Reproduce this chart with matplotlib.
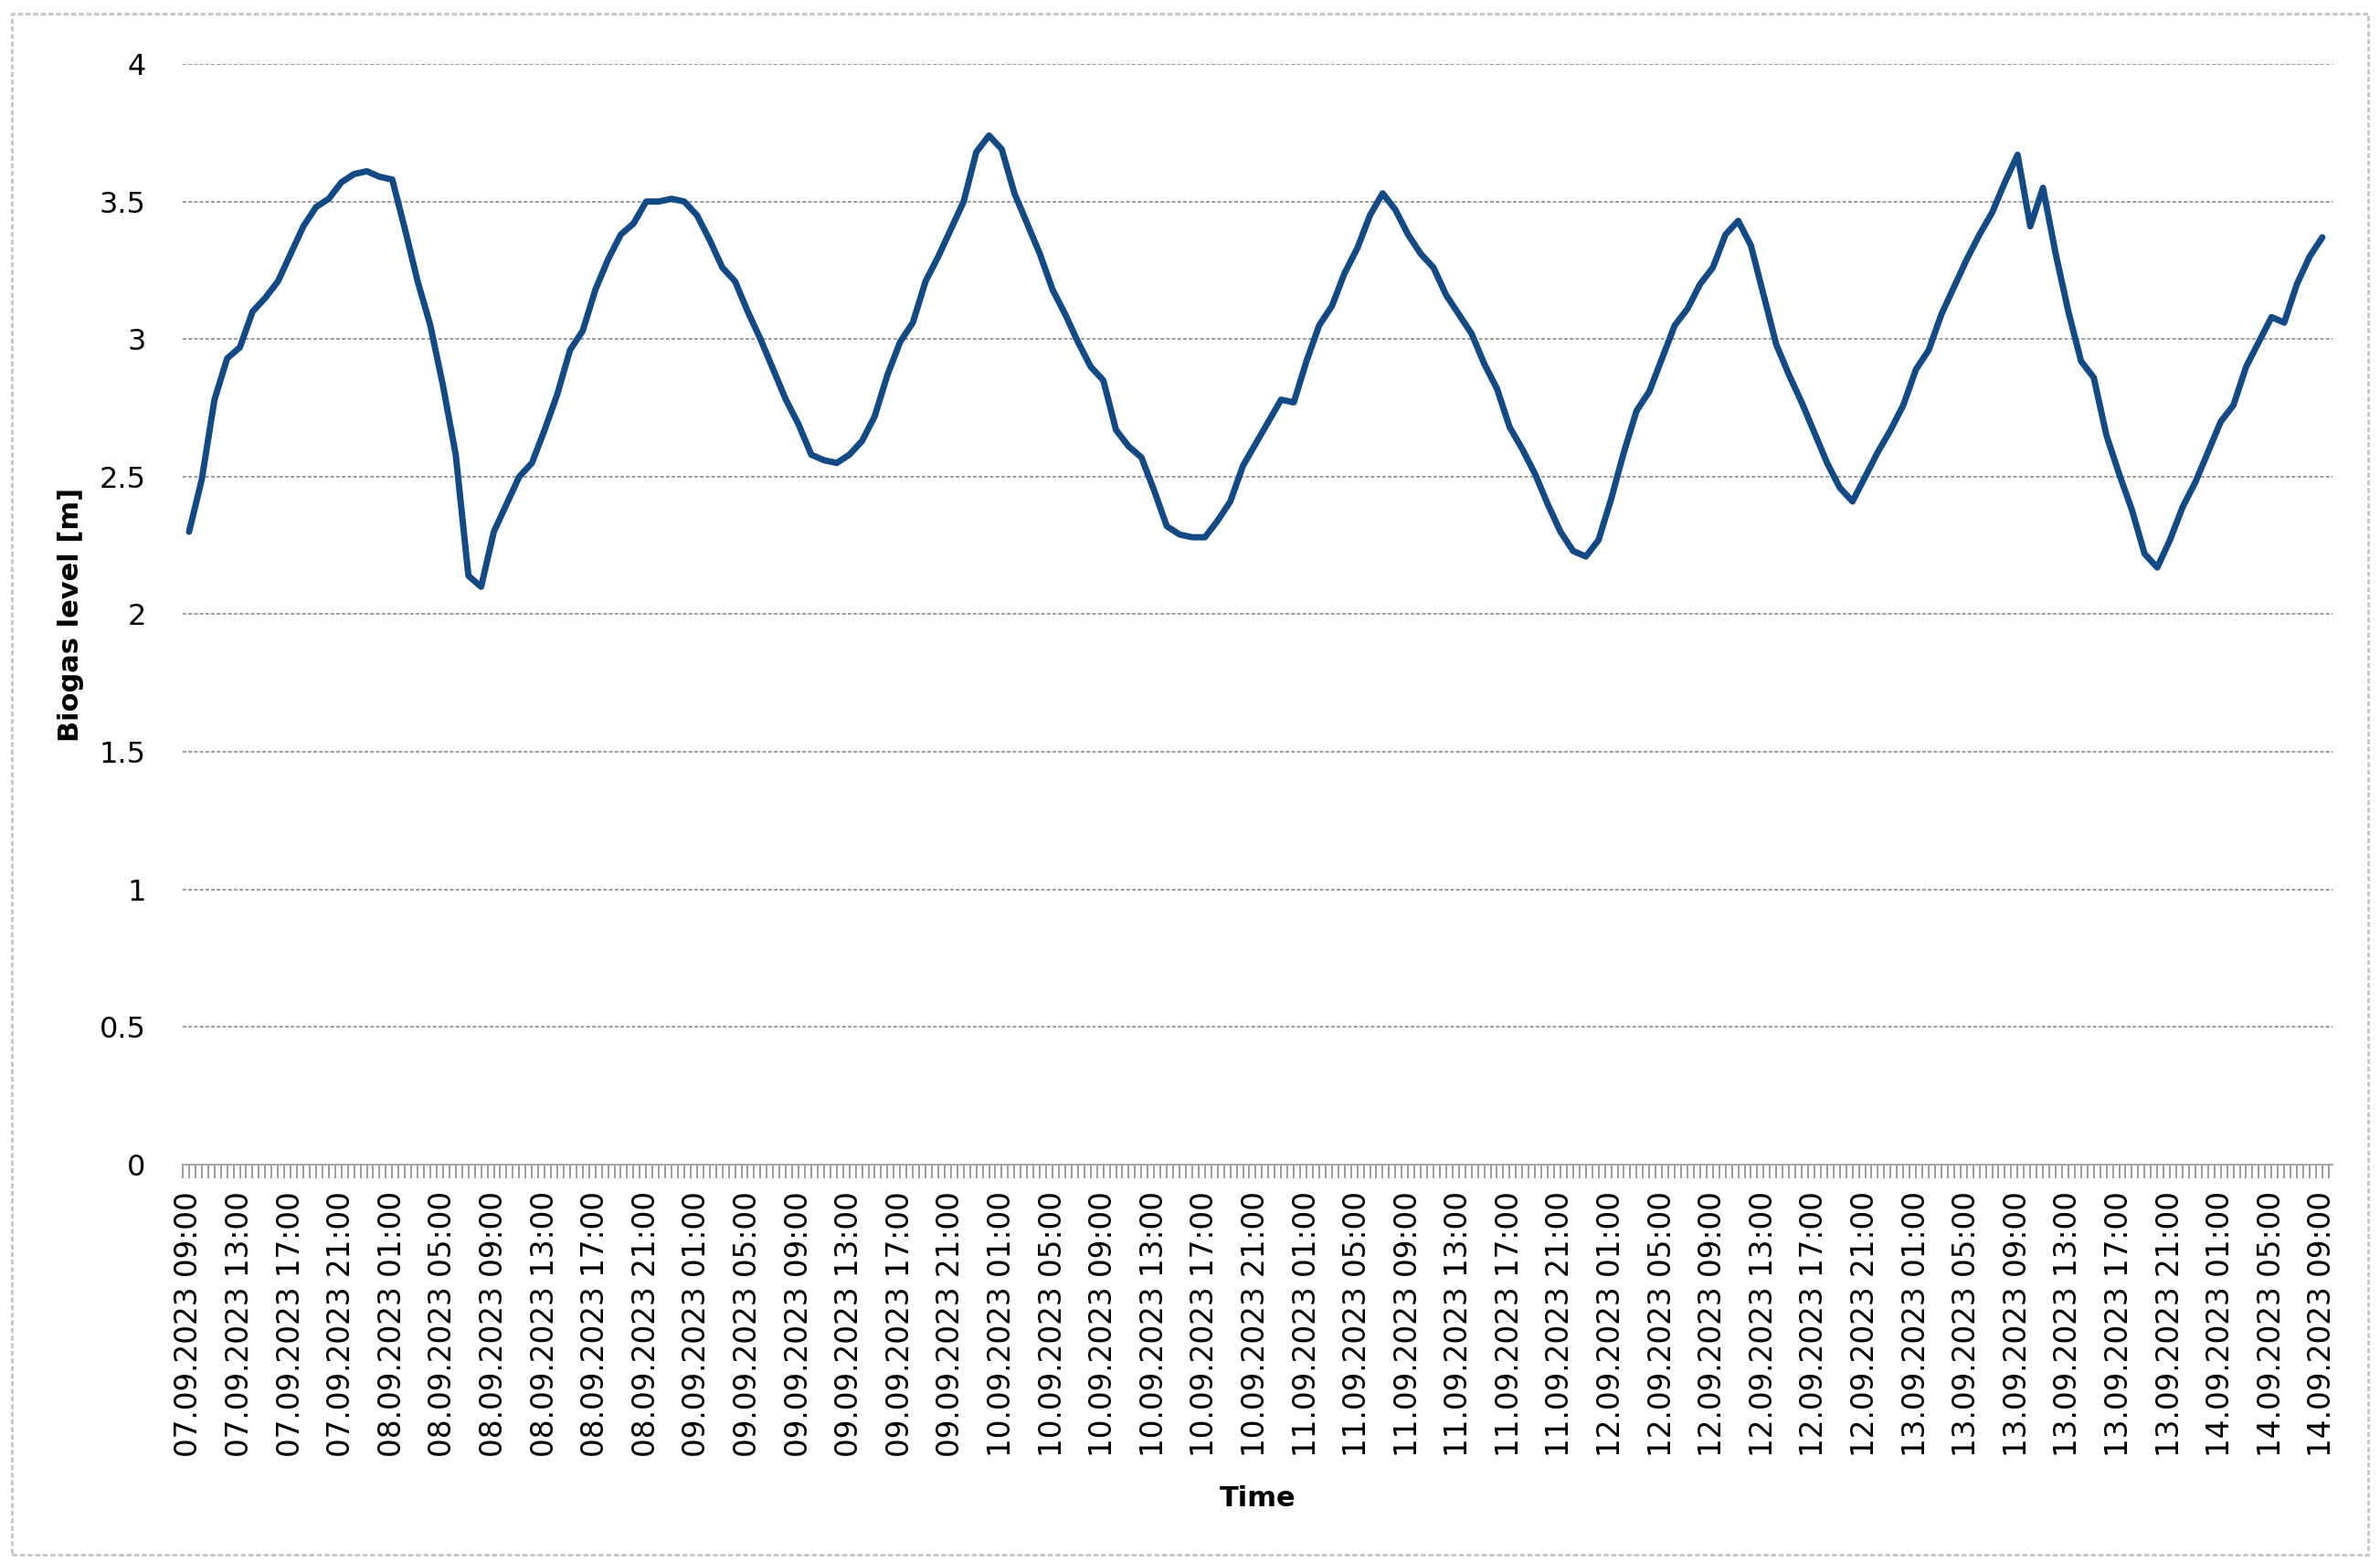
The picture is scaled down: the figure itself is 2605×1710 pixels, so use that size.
import matplotlib
matplotlib.use('Agg')

import matplotlib.pyplot as plt
import matplotlib.patches as mpatches
from matplotlib.ticker import FixedLocator, MultipleLocator
import numpy as np
import pandas as pd

plt.rcParams['font.family'] = 'DejaVu Sans'

# Biogas level, read hourly from 07.09.2023 09:00 (hour 0) to 14.09.2023 09:00 (hour 168)
start_time = '2023-09-07 09:00'
hours = np.arange(0, 169)
level = [
    2.30, 2.49, 2.78, 2.93, 2.97, 3.10, 3.15, 3.21, 3.31, 3.41,
    3.48, 3.51, 3.57, 3.60, 3.61, 3.59, 3.58, 3.40, 3.21, 3.05,
    2.83, 2.58, 2.14, 2.10, 2.30, 2.40, 2.50, 2.55, 2.67, 2.80,
    2.96, 3.03, 3.18, 3.29, 3.38, 3.42, 3.50, 3.50, 3.51, 3.50,
    3.45, 3.36, 3.26, 3.21, 3.10, 3.00, 2.89, 2.78, 2.69, 2.58,
    2.56, 2.55, 2.58, 2.63, 2.72, 2.87, 2.99, 3.06, 3.21, 3.30,
    3.40, 3.50, 3.68, 3.74, 3.69, 3.53, 3.42, 3.31, 3.18, 3.09,
    2.99, 2.90, 2.85, 2.67, 2.61, 2.57, 2.45, 2.32, 2.29, 2.28,
    2.28, 2.34, 2.41, 2.54, 2.62, 2.70, 2.78, 2.77, 2.92, 3.05,
    3.12, 3.24, 3.33, 3.45, 3.53, 3.47, 3.38, 3.31, 3.26, 3.16,
    3.09, 3.02, 2.91, 2.82, 2.68, 2.60, 2.51, 2.40, 2.30, 2.23,
    2.21, 2.27, 2.42, 2.59, 2.74, 2.81, 2.93, 3.05, 3.11, 3.20,
    3.26, 3.38, 3.43, 3.34, 3.16, 2.98, 2.87, 2.77, 2.66, 2.55,
    2.46, 2.41, 2.50, 2.59, 2.67, 2.76, 2.89, 2.96, 3.09, 3.19,
    3.29, 3.38, 3.46, 3.57, 3.67, 3.41, 3.55, 3.31, 3.10, 2.92,
    2.86, 2.65, 2.51, 2.38, 2.22, 2.17, 2.27, 2.39, 2.48, 2.59,
    2.70, 2.76, 2.90, 2.99, 3.08, 3.06, 3.20, 3.30, 3.37,
]

# axis labels every 4 hours
label_hours = np.arange(0, 169, 4)
label_text = pd.date_range(start_time, periods=len(label_hours), freq='4h').strftime('%d.%m.%Y %H:%M')
y_ticks = [0, 0.5, 1, 1.5, 2, 2.5, 3, 3.5, 4]

line_color = '#134a85'
grid_color = '#9a9a9a'

fig = plt.figure(figsize=(26.05, 17.10), dpi=100)
ax = fig.add_axes([200 / 2605, 1 - 1275 / 1710, 2353 / 2605, 1205 / 1710])

ax.plot(hours, level, color=line_color, linewidth=5, solid_joinstyle='round',
        solid_capstyle='round')

ax.set_xlim(-0.5, 168.8)
ax.set_ylim(0, 4)

# y axis
ax.set_yticks(y_ticks)
ax.set_yticklabels([f'{v:g}' for v in y_ticks])
ax.tick_params(axis='y', length=0, pad=29, labelsize=23)
ax.grid(axis='y', color=grid_color, linewidth=1.4, linestyle=(0, (2, 1.2)))
ax.set_axisbelow(True)

# x axis: label every 4 h, tick every half hour
ax.xaxis.set_major_locator(FixedLocator(label_hours))
ax.set_xticklabels(label_text, rotation=90, ha='center', va='top')
ax.xaxis.set_minor_locator(MultipleLocator(0.5))
ax.tick_params(axis='x', which='both', length=11, width=1.2, color='#8c8c8c',
               direction='out', labelsize=23.5, pad=10)

for side in ['left', 'right', 'top']:
    ax.spines[side].set_visible(False)
ax.spines['bottom'].set_color('#a6a6a6')
ax.spines['bottom'].set_linewidth(1.4)

ax.set_ylabel('Biogas level [m]', fontsize=22, fontweight='bold')
ax.yaxis.set_label_coords(-0.046, 0.5)
ax.set_xlabel('Time', fontsize=22, fontweight='bold')
ax.xaxis.set_label_coords(0.5, -0.303)
ax.xaxis.label.set_va('center')

# chart area border
border = mpatches.Rectangle((13 / 2605, 1 - 1702 / 1710), 2579 / 2605, 1687 / 1710,
                            transform=fig.transFigure, fill=False,
                            edgecolor='#c4c4c4', linewidth=2, linestyle=(0, (2, 1)))
fig.patches.append(border)

fig.savefig('out.png', dpi=100, facecolor='white')
plt.close(fig)
